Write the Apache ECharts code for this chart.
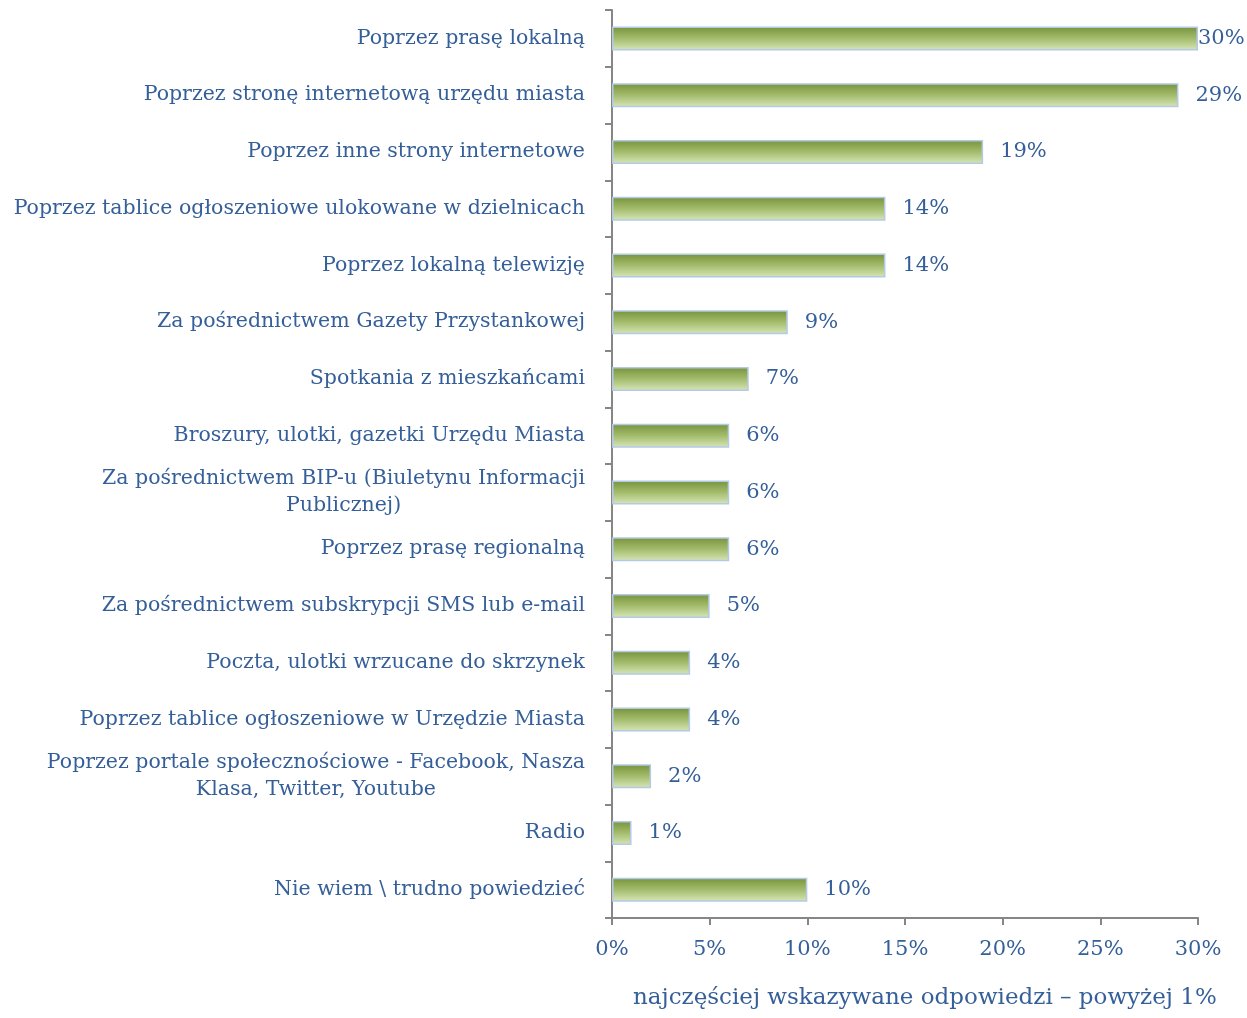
<!DOCTYPE html>
<html>
<head>
<meta charset="utf-8">
<script src="https://cdn.jsdelivr.net/npm/echarts@6/dist/echarts.min.js"></script>
<style>
html, body { margin: 0; padding: 0; background: #fff; }
#chart { width: 1247px; height: 1018px; }
</style>
</head>
<body>
<div id="chart"></div>
<script>
var categories = [
    'Poprzez prasę lokalną',
    'Poprzez stronę internetową urzędu miasta',
    'Poprzez inne strony internetowe',
    'Poprzez tablice ogłoszeniowe ulokowane w dzielnicach',
    'Poprzez lokalną telewizję',
    'Za pośrednictwem Gazety Przystankowej',
    'Spotkania z mieszkańcami',
    'Broszury, ulotki, gazetki Urzędu Miasta',
    'Za pośrednictwem BIP-u (Biuletynu Informacji\nPublicznej)',
    'Poprzez prasę regionalną',
    'Za pośrednictwem subskrypcji SMS lub e-mail',
    'Poczta, ulotki wrzucane do skrzynek',
    'Poprzez tablice ogłoszeniowe w Urzędzie Miasta',
    'Poprzez portale społecznościowe - Facebook, Nasza\nKlasa, Twitter, Youtube',
    'Radio',
    'Nie wiem \\ trudno powiedzieć'
];
var values = [30, 29, 19, 14, 14, 9, 7, 6, 6, 6, 5, 4, 4, 2, 1, 10];
var xTicks = [0, 5, 10, 15, 20, 25, 30];

var blue = '#355f99';
var font = 'DejaVu Serif';

var myChart = echarts.init(document.getElementById('chart'));

var barData = values.map(function (v, i) {
    var item = { value: v };
    if (v >= xTicks[xTicks.length - 1]) {
        item.label = { distance: 0 };//nie mieści się z prawej
    }
    return item;
});

var option = {
    animation: false,
    grid: { left: 612, right: 49, top: 10, bottom: 100, containLabel: false },
    xAxis: {
        type: 'value',
        min: 0,
        max: 30,
        interval: 5,
        axisLine: { show: true, lineStyle: { color: '#868686', width: 2 } },
        axisTick: { show: true, length: 7, lineStyle: { color: '#868686', width: 2 } },
        splitLine: { show: false },
        axisLabel: {
            margin: 21,
            color: blue,
            fontFamily: font,
            fontSize: 21,
            formatter: '{value}%'
        }
    },
    yAxis: {
        type: 'category',
        inverse: true,
        data: categories,
        axisLine: { show: true, lineStyle: { color: '#868686', width: 2 } },
        axisTick: { show: true, length: 7, lineStyle: { color: '#868686', width: 2 } },
        axisLabel: {
            margin: 27,
            color: blue,
            fontFamily: font,
            fontSize: 20.5,
            lineHeight: 27,
            formatter: function (v) { return '{c|' + v.split('\n').join('}\n{c|') + '}'; },
            rich: { c: { align: 'center', color: blue, fontFamily: font, fontSize: 20.5, lineHeight: 27 } }
        }
    },
    series: [{
        type: 'bar',
        data: barData,
        barWidth: 24,
        itemStyle: {
            color: new echarts.graphic.LinearGradient(0, 0, 0, 1, [
                { offset: 0, color: '#76923a' },
                { offset: 0.5, color: '#a3bc6c' },
                { offset: 1, color: '#d8e6b8' }
            ]),
            borderColor: '#b4c9e8',
            borderWidth: 1.5
        },
        label: {
            show: true,
            position: 'right',
            distance: 17,
            color: blue,
            fontFamily: font,
            fontSize: 21,
            formatter: '{c}%'
        }
    }],
    graphic: [{
        type: 'text',
        left: 633,
        top: 987,
        style: {
            text: 'najczęściej wskazywane odpowiedzi – powyżej 1%',
            fill: blue,
            font: '23px "DejaVu Serif"'
        }
    }]
};
myChart.setOption(option);
</script>
</body>
</html>
